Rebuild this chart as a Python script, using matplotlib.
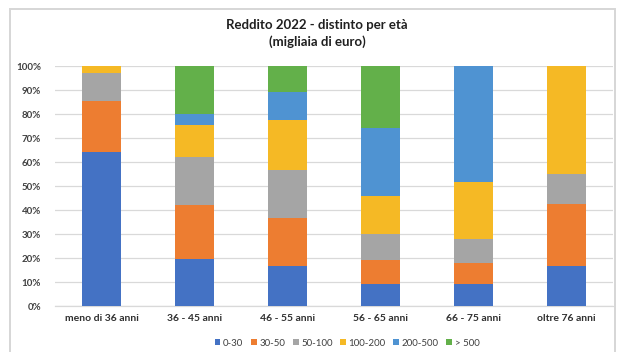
import matplotlib
matplotlib.use("Agg")
import matplotlib.pyplot as plt
from matplotlib.patches import Rectangle
import numpy as np

plt.rcParams['font.family'] = ['Lato', 'DejaVu Sans']

categories = ["meno di 36 anni", "36 - 45 anni", "46 - 55 anni",
              "56 - 65 anni", "66 - 75 anni", "oltre 76 anni"]
series_labels = ["0-30", "30-50", "50-100", "100-200", "200-500", "> 500"]
v_0_30 = [64.0, 19.5, 16.5, 9.0, 9.0, 16.5]
v_30_50 = [21.5, 22.5, 20.0, 10.0, 9.0, 26.0]
v_50_100 = [11.5, 20.0, 20.0, 11.0, 10.0, 12.5]
v_100_200 = [3.0, 13.5, 21.0, 16.0, 23.5, 45.0]
v_200_500 = [0.0, 4.5, 11.5, 28.0, 48.5, 0.0]
v_500 = [0.0, 20.0, 11.0, 26.0, 0.0, 0.0]
series = [v_0_30, v_30_50, v_50_100, v_100_200, v_200_500, v_500]
colors = ["#4472C4", "#ED7D31", "#A5A5A5", "#F5B925", "#4F93D2", "#63B04A"]
yticks = [0, 10, 20, 30, 40, 50, 60, 70, 80, 90, 100]

fig = plt.figure(figsize=(6.22, 3.52), dpi=100)
fig.patch.set_facecolor("white")

# light frame around the chart area
fig.patches.append(Rectangle((10 / 622, -0.05), 605 / 622, 1.05 - 9 / 352,
                             transform=fig.transFigure, fill=False,
                             edgecolor="#D6D6D6", linewidth=1.4))

ax = fig.add_axes([55 / 622, 46 / 352, 558 / 622, 240 / 352])
x = np.arange(len(categories))
bottom = np.zeros(len(categories))
for vals, lab, col in zip(series, series_labels, colors):
    vals = np.array(vals)
    ax.bar(x, vals, 0.41, bottom=bottom, color=col, label=lab, zorder=3)
    bottom += vals

ax.set_xlim(-0.5, len(categories) - 0.5)
ax.set_ylim(0, 100)
ax.set_yticks(yticks)
ax.set_yticklabels([f"{t}%" for t in yticks], fontsize=7, fontweight="bold",
                   color="#404040")
ax.set_xticks(x)
ax.set_xticklabels(categories, fontsize=7.5, fontweight="bold", color="#303030")
ax.tick_params(axis="both", length=0)
ax.tick_params(axis="y", pad=10)
ax.tick_params(axis="x", pad=6)
ax.grid(axis="y", color="#D9D9D9", linewidth=0.9, zorder=0)
for s in ["top", "right", "left"]:
    ax.spines[s].set_visible(False)
ax.spines["bottom"].set_color("#D9D9D9")
ax.spines["bottom"].set_linewidth(0.9)

fig.text(0.51, 1 - 25 / 352, "Reddito 2022 - distinto per età", ha="center",
         va="center", fontsize=9.5, fontweight="bold", color="#202020")
fig.text(0.51, 1 - 42 / 352, "(migliaia di euro)", ha="center",
         va="center", fontsize=9.5, fontweight="bold", color="#202020")

leg = fig.legend(loc="center", bbox_to_anchor=(347 / 622, 1 - 343 / 352),
                 ncol=6, frameon=False, fontsize=7, handlelength=0.6,
                 handleheight=0.6, handletextpad=0.25, columnspacing=0.8)
for t in leg.get_texts():
    t.set_color("#404040")

fig.savefig("out.png", dpi=100)
